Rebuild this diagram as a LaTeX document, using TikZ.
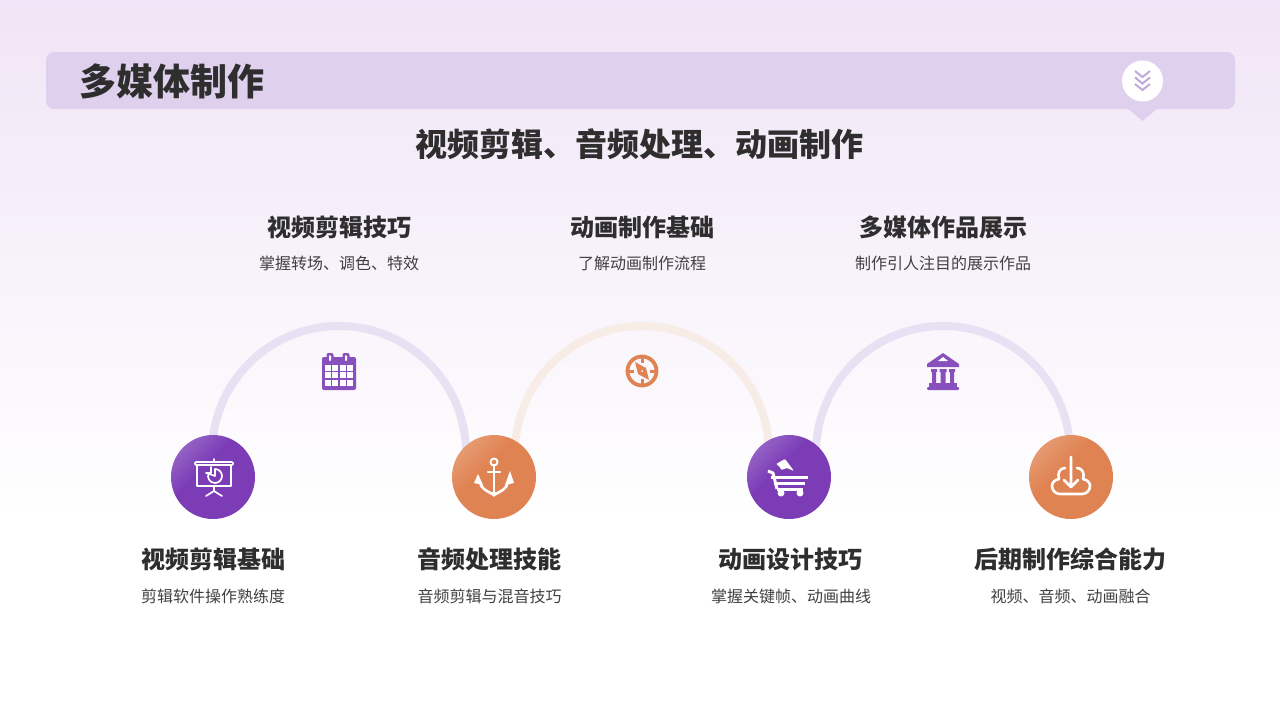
\documentclass[tikz,border=0pt]{standalone}
\usepackage{fontspec}
\setmainfont{Noto Sans CJK SC}
\usepackage{xcolor}
\usetikzlibrary{backgrounds}
\definecolor{bgtop}{HTML}{F0E5F6}
\definecolor{barcol}{HTML}{DFD1EE}
\definecolor{chevcol}{HTML}{BFA9DA}
\definecolor{inkcol}{HTML}{2E2E2E}
\definecolor{subcol}{HTML}{404040}
\definecolor{pdark}{HTML}{7B3CB6}
\definecolor{plight}{HTML}{9A6CC8}
\definecolor{odark}{HTML}{E08353}
\definecolor{olight}{HTML}{E8A07A}
\definecolor{arcp}{HTML}{E8E0F3}
\definecolor{arco}{HTML}{F8ECE6}
\pgfdeclareverticalshading{purpball}{100bp}{color(0bp)=(pdark); color(58bp)=(pdark); color(80bp)=(plight); color(100bp)=(plight)}
\pgfdeclareverticalshading{orgball}{100bp}{color(0bp)=(odark); color(58bp)=(odark); color(80bp)=(olight); color(100bp)=(olight)}
\begin{document}
\begin{tikzpicture}[x=1pt,y=-1pt,
  ball/.style={circle,minimum size=84pt,inner sep=0pt},
  bp/.style={ball,shading=purpball,shading angle=45},
  bo/.style={ball,shading=orgball,shading angle=45},
  big/.style={font=\fontsize{24pt}{28pt}\selectfont\bfseries,text=inkcol,inner sep=0pt},
  small/.style={font=\fontsize{16pt}{20pt}\selectfont,text=subcol,inner sep=0pt},
  arcline/.style={line width=8pt},
  wl/.style={draw=white,line width=1.7pt,line cap=round,line join=round}]
\useasboundingbox (0,0) rectangle (1280,720);
\node[bp] (m1) at (213,477) {};
\node[bo] (m2) at (494,477) {};
\node[bp] (m3) at (789,477) {};
\node[bo] (m4) at (1071,477) {};
\begin{scope}[on background layer]
\shade[top color=bgtop,bottom color=white] (0,0) rectangle (1280,520);
\fill[barcol,rounded corners=8pt] (46,52) rectangle (1235,109);
\fill[barcol] (1127,108) -- (1158,108) -- (1142.5,121) -- cycle;
\draw[arcline,arcp] (m1.center) -- (212,453) arc[start angle=180,end angle=0,radius=127pt] -- (m2.center);
\draw[arcline,arco] (m2.center) -- (515,453) arc[start angle=180,end angle=0,radius=127pt] -- (m3.center);
\draw[arcline,arcp] (m3.center) -- (816,453) arc[start angle=180,end angle=0,radius=127pt] -- (m4.center);
\end{scope}
\node[font=\fontsize{37pt}{42pt}\selectfont\bfseries,text=inkcol,anchor=west,inner sep=0pt] (title) at (79,81) {多媒体制作};
\node[font=\fontsize{32pt}{38pt}\selectfont\bfseries,text=inkcol,inner sep=0pt] (subtitle) at (639.5,144) {视频剪辑、音频处理、动画制作};
\node[circle,fill=white,minimum size=41pt,inner sep=0pt] (badge) at (1142.5,81) {};
\foreach \y in {77,83.5,90}\draw[chevcol,line width=2pt] (1135,\y-6) -- (1142.5,\y) -- (1150,\y-6);
\node[big] (h1) at (339,227) {视频剪辑技巧};
\node[small] (s1) at (339,263) {掌握转场、调色、特效};
\node[big] (h2) at (642,227) {动画制作基础};
\node[small] (s2) at (642,263) {了解动画制作流程};
\node[big] (h3) at (943,227) {多媒体作品展示};
\node[small] (s3) at (943,263) {制作引人注目的展示作品};
\node[big] (h4) at (213,559) {视频剪辑基础};
\node[small] (s4) at (213,596) {剪辑软件操作熟练度};
\node[big] (h5) at (489.5,559) {音频处理技能};
\node[small] (s5) at (489.5,596) {音频剪辑与混音技巧};
\node[big] (h6) at (790.5,559) {动画设计技巧};
\node[small] (s6) at (791,596) {掌握关键帧、动画曲线};
\node[big] (h7) at (1070.5,559) {后期制作综合能力};
\node[small] (s7) at (1070.5,596) {视频、音频、动画融合};
\begin{scope}[shift={(m1.center)}]
\draw[wl,rounded corners=1pt] (-18,-15) rectangle (20,-12);
\draw[wl] (-16,-12) -- (-16,9) -- (18,9) -- (18,-12);
\draw[wl] (1,-18) -- (1,-15);
\draw[wl] (2,-8) arc[start angle=90,end angle=-200,radius=7pt] -- (2,-1) -- cycle;
\draw[wl] (-2,-10) -- (-2,-4) -- (-7,-4);
\draw[wl] (1,9) -- (1,14) (-7,19) -- (1,14) -- (9,19);
\end{scope}
\begin{scope}[shift={(m2.center)}]
\draw[wl,line width=2pt] (0,-15) circle[radius=3.5pt];
\draw[wl,line width=2.6pt] (0,-11) -- (0,16) (-6,-5) -- (6,-5);
\draw[wl,line width=2.6pt] (-14,5) .. controls (-13,12) and (-7,14) .. (0,18) .. controls (7,14) and (13,12) .. (14,5);
\fill[white] (-16,-3) -- (-11,8) -- (-20,6) -- cycle;
\fill[white] (16,-6) -- (20,6) -- (11,8) -- cycle;
\fill[white] (-4,15) -- (4,15) -- (0,20) -- cycle;
\end{scope}
\begin{scope}[shift={(m3.center)}]
\fill[white,rounded corners=1pt] (-13,-13) -- (-4,-18) -- (-1,-14) -- (5,-6) -- (-2,-9) -- (-8,-7) -- (-9,-10) -- cycle;
\draw[wl,line width=3pt,line cap=butt] (-21,-6) -- (-16,-4) -- (-12,12);
\draw[wl,line width=3pt,line cap=butt] (-18,0) -- (19,0) (-15,6) -- (16,6) (-12,12) -- (14,12);
\fill[white] (-8,16) circle[radius=3.5pt] (11,16) circle[radius=3.5pt];
\end{scope}
\begin{scope}[shift={(m4.center)}]
\draw[wl,line width=2.6pt] (0,-20) -- (0,10) (-7,3) -- (0,10) -- (7,3);
\draw[wl,line width=2.6pt] (-6,-9) .. controls (-11,-9) and (-14,-4) .. (-12,2) .. controls (-17,3) and (-19,6) .. (-19,9) .. controls (-19,14) and (-15,17) .. (-11,17) -- (11,17) .. controls (15,17) and (19,14) .. (19,9) .. controls (19,6) and (17,3) .. (12,2) .. controls (14,-4) and (11,-9) .. (6,-9);
\end{scope}
\begin{scope}[shift={(339,371)}]
\fill[pdark!90!white,rounded corners=2pt] (-17,-14) rectangle (17,19);
\foreach \x in {-9,7}{
  \fill[pdark!90!white,rounded corners=2pt] (\x-3.5,-18) rectangle (\x+3.5,-8);
  \fill[white,rounded corners=1pt] (\x-1,-16) rectangle (\x+1,-10);
}
\foreach \x in {-14.5,-7,0.5,8}\foreach \y in {-6.5,1,8.5}\fill[white] (\x,\y) rectangle ++(6,6);
\end{scope}
\begin{scope}[shift={(642,371)}]
\draw[odark,line width=3.8pt] (0,0) circle[radius=14.5pt];
\draw[odark,line width=3pt] (0,-14) -- (0,-8) (0,14) -- (0,8) (-14,0) -- (-8,0) (14,0) -- (8,0);
\fill[odark] (-7,-9) -- (4,-3) -- (7,9) -- (-4,3) -- cycle;
\fill[white] (0,0) circle[radius=1pt];
\end{scope}
\begin{scope}[shift={(943,371)}]
\fill[pdark!90!white] (0,-18) -- (16,-7) -- (16,-4) -- (-16,-4) -- (-16,-7) -- cycle;
\fill[white] (0,-14) -- (5,-10) -- (-5,-10) -- cycle;
\fill[pdark!90!white] (-12,-2) rectangle (-6,1) (-3.5,-2) rectangle (3.5,1) (6,-2) rectangle (12,1);
\fill[pdark!90!white] (-11,1) rectangle (-7,12) (-2.5,1) rectangle (2.5,12) (7,1) rectangle (11,12);
\fill[pdark!90!white] (-14,12) rectangle (14,16);
\fill[pdark!90!white,rounded corners=1pt] (-16,16) rectangle (16,19);
\end{scope}
\end{tikzpicture}
\end{document}
